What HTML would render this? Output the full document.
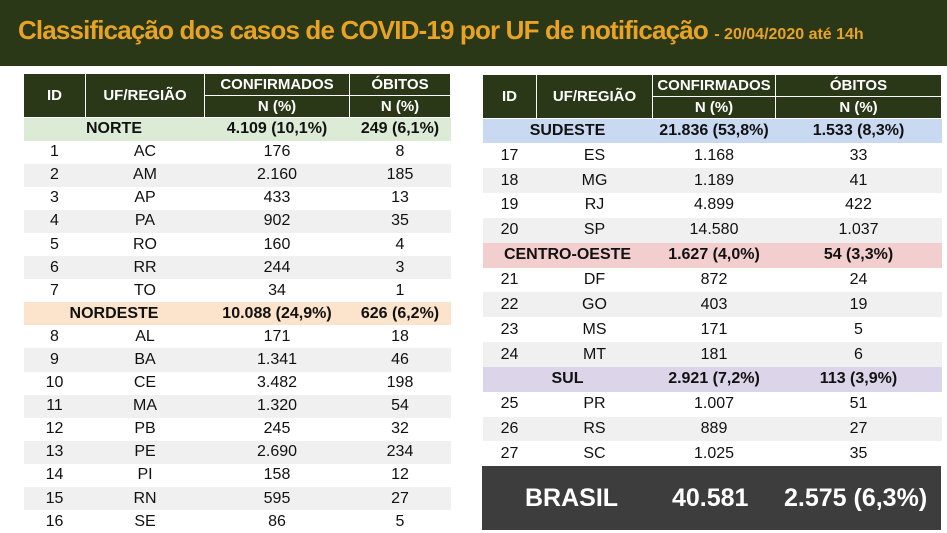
<!DOCTYPE html>
<html><head><meta charset="utf-8"><style>
*{margin:0;padding:0;box-sizing:border-box}
body{width:947px;height:533px;background:#fff;position:relative;overflow:hidden;font-family:"Liberation Sans",sans-serif}
.hdr{position:absolute;left:0;top:0;width:947px;height:66px;background:#2a3817}
.hdr span{position:absolute;left:18px;top:15px;color:#e9a324;font-weight:bold;font-size:26px;letter-spacing:-0.85px;white-space:nowrap}
.hdr small{font-size:16px;letter-spacing:0}
table{position:absolute;border-collapse:collapse;table-layout:fixed;font-size:16px;color:#111}
td{text-align:center;height:23.1px;padding:0;white-space:nowrap}
#rt td{height:24.85px}
th{background:#2a3817;color:#fff;font-size:15px;border:1.5px solid #fff;padding:0;height:22px}
tr.g td{background:#f0f0f0}
tr.r td{font-weight:bold}
.n td{background:#dcebd5}.ne td{background:#fbe3cc}.se td{background:#c9d9f1}.co td{background:#f2cece}.s td{background:#dcd5ea}
.br{position:absolute;left:482px;top:466px;width:459px;height:64px;background:#3d3d3d;color:#fff;font-weight:bold;font-size:25px}
.br span{position:absolute;top:18px}
</style></head><body>
<div class="hdr"><span>Classificação dos casos de COVID-19 por UF de notificação <small>- 20/04/2020 até 14h</small></span></div>
<table style="left:23px;top:73px;width:427px">
<colgroup><col style="width:62px"><col style="width:119px"><col style="width:145px"><col style="width:101px"></colgroup>
<tr><th rowspan="2">ID</th><th rowspan="2">UF/REGIÃO</th><th>CONFIRMADOS</th><th>ÓBITOS</th></tr>
<tr><th>N (%)</th><th>N (%)</th></tr>
<tr class="r n"><td colspan="2">NORTE</td><td>4.109 (10,1%)</td><td>249 (6,1%)</td></tr>
<tr><td>1</td><td>AC</td><td>176</td><td>8</td></tr>
<tr class="g"><td>2</td><td>AM</td><td>2.160</td><td>185</td></tr>
<tr><td>3</td><td>AP</td><td>433</td><td>13</td></tr>
<tr class="g"><td>4</td><td>PA</td><td>902</td><td>35</td></tr>
<tr><td>5</td><td>RO</td><td>160</td><td>4</td></tr>
<tr class="g"><td>6</td><td>RR</td><td>244</td><td>3</td></tr>
<tr><td>7</td><td>TO</td><td>34</td><td>1</td></tr>
<tr class="r ne"><td colspan="2">NORDESTE</td><td>10.088 (24,9%)</td><td>626 (6,2%)</td></tr>
<tr><td>8</td><td>AL</td><td>171</td><td>18</td></tr>
<tr class="g"><td>9</td><td>BA</td><td>1.341</td><td>46</td></tr>
<tr><td>10</td><td>CE</td><td>3.482</td><td>198</td></tr>
<tr class="g"><td>11</td><td>MA</td><td>1.320</td><td>54</td></tr>
<tr><td>12</td><td>PB</td><td>245</td><td>32</td></tr>
<tr class="g"><td>13</td><td>PE</td><td>2.690</td><td>234</td></tr>
<tr><td>14</td><td>PI</td><td>158</td><td>12</td></tr>
<tr class="g"><td>15</td><td>RN</td><td>595</td><td>27</td></tr>
<tr><td>16</td><td>SE</td><td>86</td><td>5</td></tr>
</table>
<table id="rt" style="left:482px;top:74px;width:459px">
<colgroup><col style="width:54px"><col style="width:116px"><col style="width:123px"><col style="width:166px"></colgroup>
<tr><th rowspan="2">ID</th><th rowspan="2">UF/REGIÃO</th><th>CONFIRMADOS</th><th>ÓBITOS</th></tr>
<tr><th>N (%)</th><th>N (%)</th></tr>
<tr class="r se"><td colspan="2">SUDESTE</td><td>21.836 (53,8%)</td><td>1.533 (8,3%)</td></tr>
<tr><td>17</td><td>ES</td><td>1.168</td><td>33</td></tr>
<tr class="g"><td>18</td><td>MG</td><td>1.189</td><td>41</td></tr>
<tr><td>19</td><td>RJ</td><td>4.899</td><td>422</td></tr>
<tr class="g"><td>20</td><td>SP</td><td>14.580</td><td>1.037</td></tr>
<tr class="r co"><td colspan="2">CENTRO-OESTE</td><td>1.627 (4,0%)</td><td>54 (3,3%)</td></tr>
<tr><td>21</td><td>DF</td><td>872</td><td>24</td></tr>
<tr class="g"><td>22</td><td>GO</td><td>403</td><td>19</td></tr>
<tr><td>23</td><td>MS</td><td>171</td><td>5</td></tr>
<tr class="g"><td>24</td><td>MT</td><td>181</td><td>6</td></tr>
<tr class="r s"><td colspan="2">SUL</td><td>2.921 (7,2%)</td><td>113 (3,9%)</td></tr>
<tr><td>25</td><td>PR</td><td>1.007</td><td>51</td></tr>
<tr class="g"><td>26</td><td>RS</td><td>889</td><td>27</td></tr>
<tr><td>27</td><td>SC</td><td>1.025</td><td>35</td></tr>
</table>
<div class="br"><span style="left:43px">BRASIL</span><span style="left:190px">40.581</span><span style="left:302px">2.575 (6,3%)</span></div>
</body></html>
